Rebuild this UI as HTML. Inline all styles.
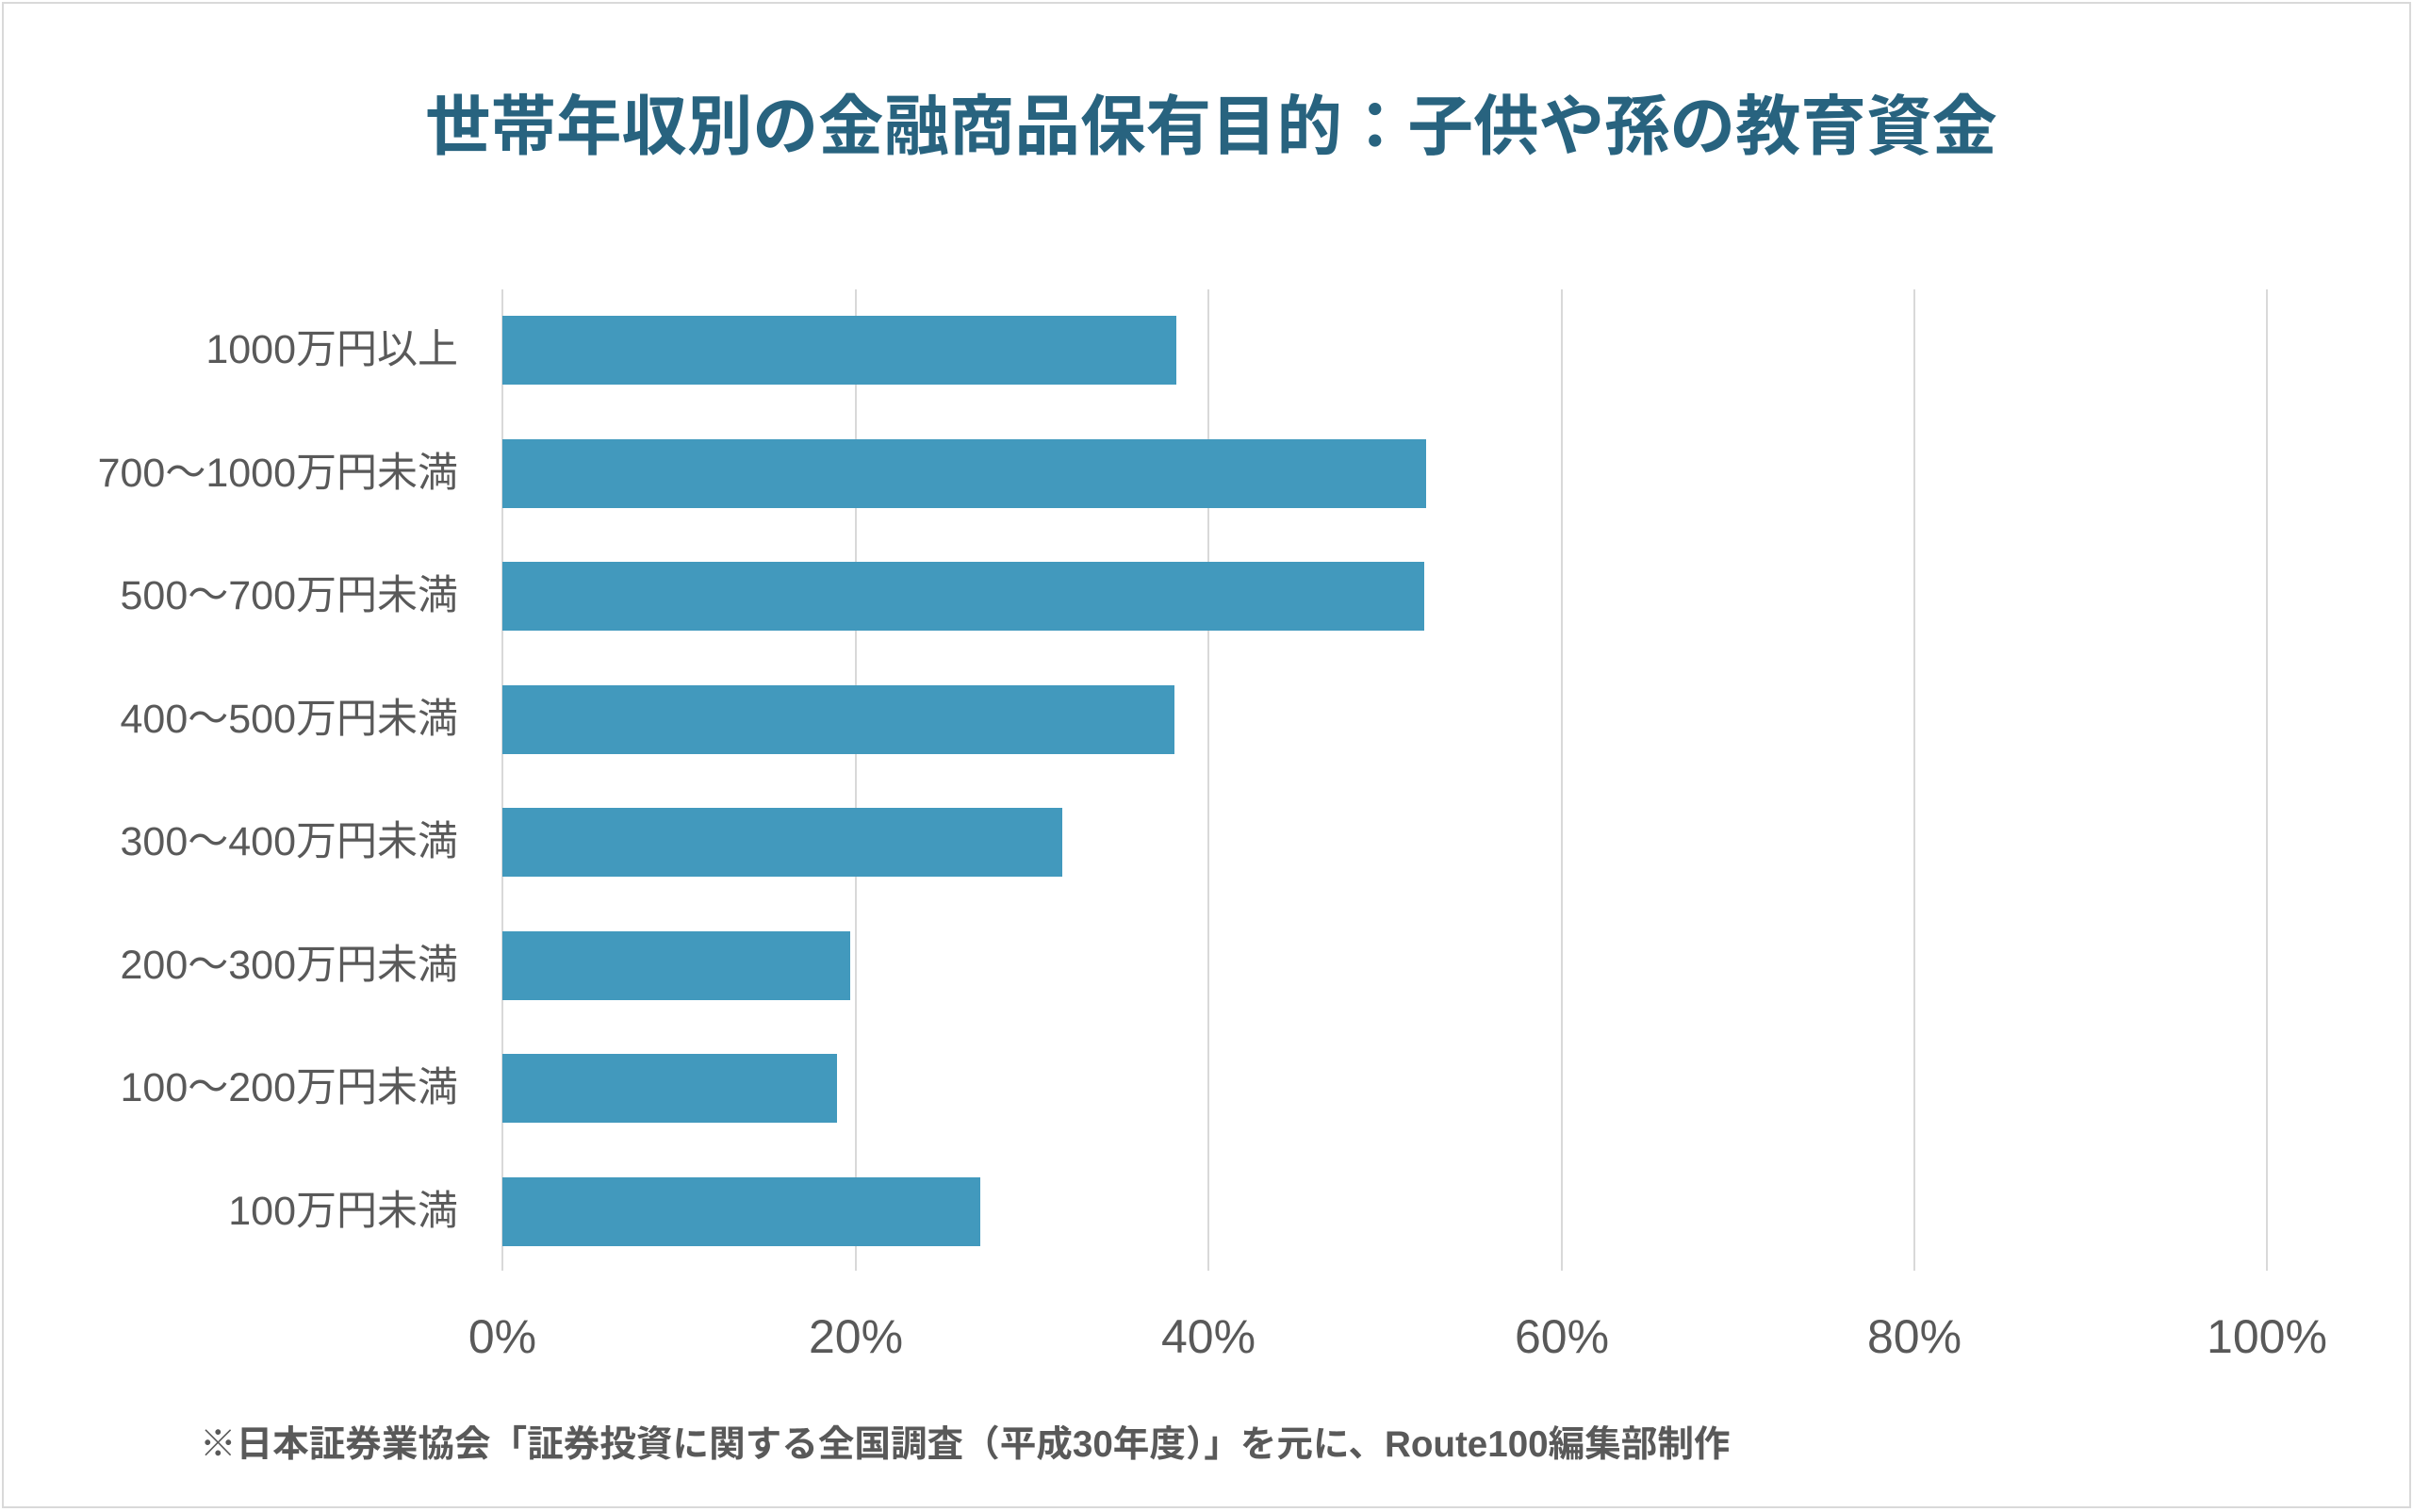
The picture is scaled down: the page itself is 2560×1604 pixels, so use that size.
<!DOCTYPE html>
<html><head><meta charset="utf-8"><style>
body{margin:0;width:2560px;height:1604px;background:#fff;position:relative;overflow:hidden;font-family:"Liberation Sans","Noto Sans CJK JP",sans-serif}
.frame{position:absolute;left:2px;top:2px;width:2552px;height:1594px;border:2px solid #d9d9d9}
.title{position:absolute;left:0;width:2560px;top:92px;text-align:center;font-size:69.5px;font-weight:bold;color:#28637f;line-height:84px;padding-left:10px;box-sizing:border-box}
.grid{position:absolute;top:307px;height:1041px;width:2px;background:#d9d9d9}
.bar{position:absolute;left:533px;height:73px;background:#4299bd}
.lab{position:absolute;right:2074px;font-size:43px;color:#595959;line-height:50px;white-space:nowrap}
.tick{position:absolute;top:1388px;font-size:50px;color:#595959;width:200px;margin-left:-100px;text-align:center;line-height:60px}
.foot{position:absolute;left:212px;top:1508px;font-size:38.6px;font-weight:bold;color:#595959;line-height:50px;white-space:nowrap}
</style></head><body>
<div class="frame"></div>
<div class="title">世帯年収別の金融商品保有目的：子供や孫の教育資金</div>
<div class="grid" style="left:532px"></div>
<div class="grid" style="left:907px"></div>
<div class="grid" style="left:1281px"></div>
<div class="grid" style="left:1656px"></div>
<div class="grid" style="left:2030px"></div>
<div class="grid" style="left:2404px"></div>

<div class="bar" style="top:335px;width:715px"></div>
<div class="bar" style="top:466px;width:980px"></div>
<div class="bar" style="top:596px;width:978px"></div>
<div class="bar" style="top:727px;width:713px"></div>
<div class="bar" style="top:857px;width:594px"></div>
<div class="bar" style="top:988px;width:369px"></div>
<div class="bar" style="top:1118px;width:355px"></div>
<div class="bar" style="top:1249px;width:507px"></div>

<div class="lab" style="top:346px">1000万円以上</div>
<div class="lab" style="top:477px">700～1000万円未満</div>
<div class="lab" style="top:607px">500～700万円未満</div>
<div class="lab" style="top:738px">400～500万円未満</div>
<div class="lab" style="top:868px">300～400万円未満</div>
<div class="lab" style="top:999px">200～300万円未満</div>
<div class="lab" style="top:1129px">100～200万円未満</div>
<div class="lab" style="top:1260px">100万円未満</div>

<div class="tick" style="left:533px">0%</div>
<div class="tick" style="left:908px">20%</div>
<div class="tick" style="left:1282px">40%</div>
<div class="tick" style="left:1657px">60%</div>
<div class="tick" style="left:2031px">80%</div>
<div class="tick" style="left:2405px">100%</div>

<div class="foot">※日本証券業協会「証券投資に関する全国調査（平成30年度）」を元に、Route100編集部制作</div>
</body></html>
